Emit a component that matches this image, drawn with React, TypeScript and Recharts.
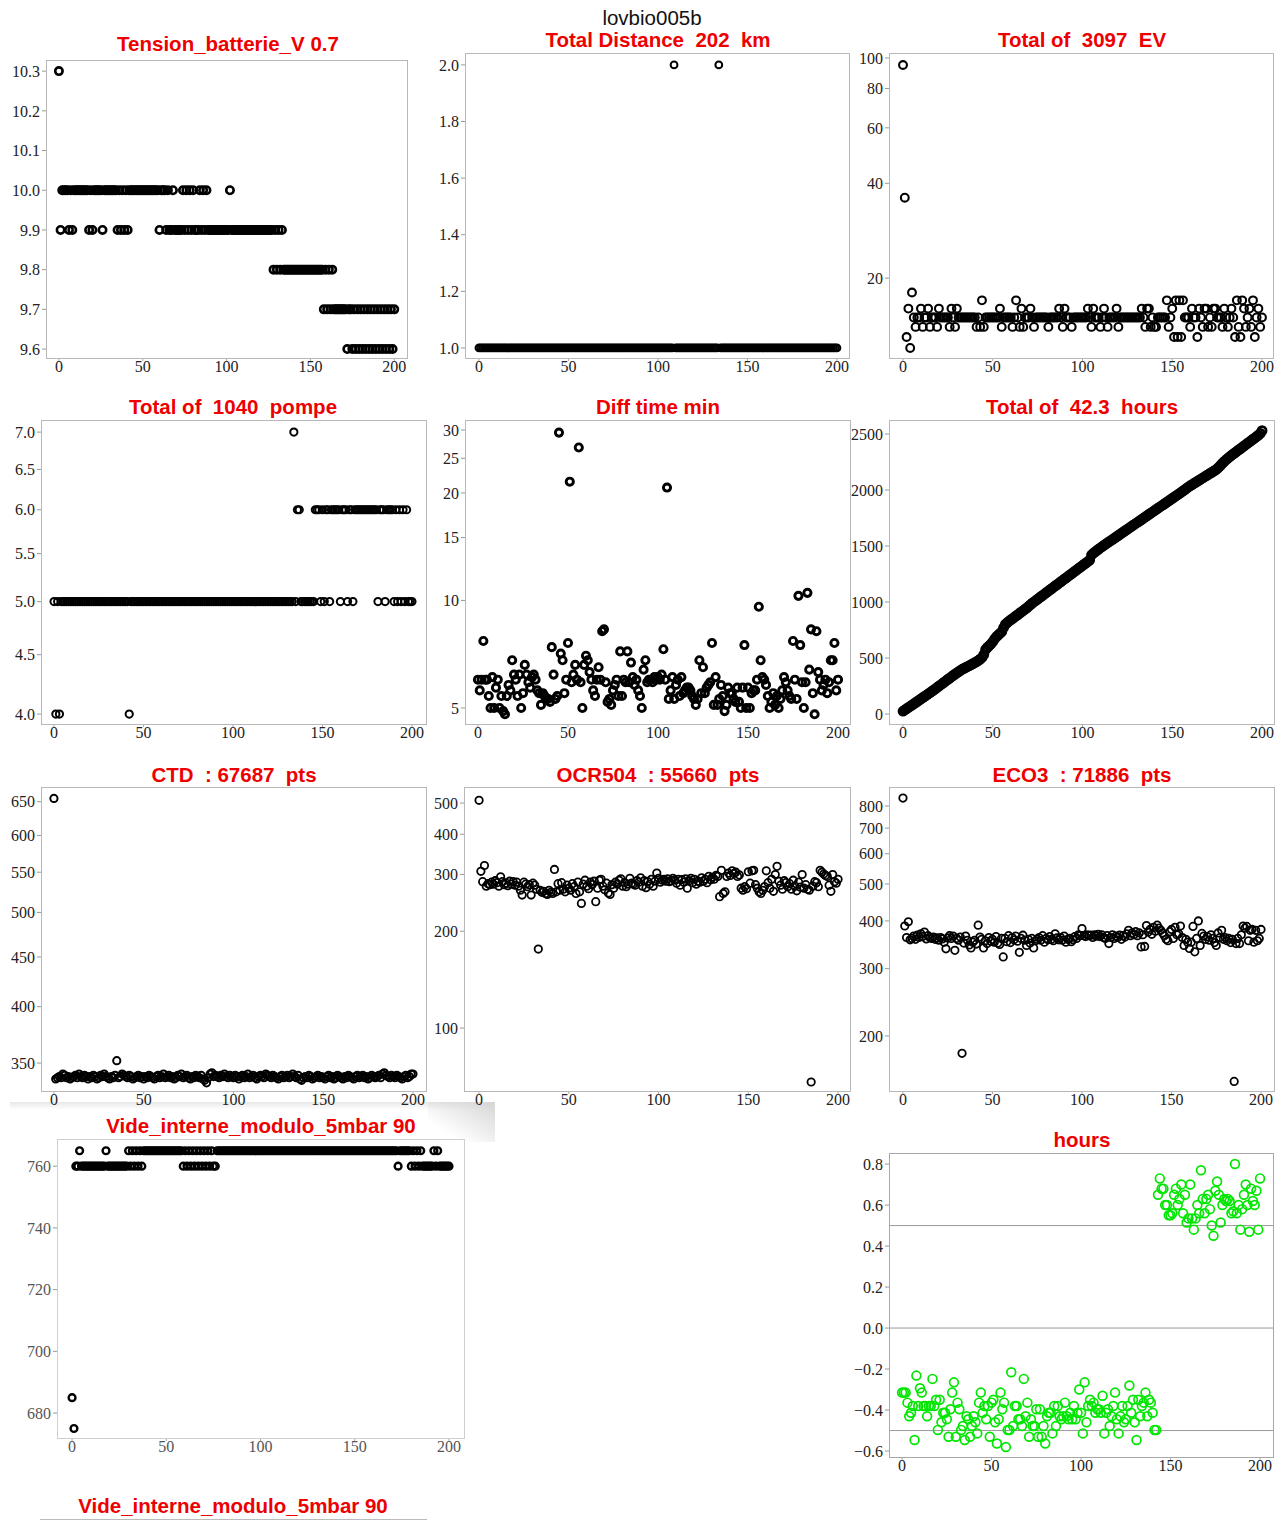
import React from 'react';
import { ScatterChart, Scatter, XAxis, YAxis, ReferenceLine } from 'recharts';

const X_TICKS = [0, 50, 100, 150, 200];

// Tension_batterie_V
const tension = [
  10.3, 9.9, 10.0, 10.0, 10.0, 10.0, 9.9, 10.0, 9.9, 10.0,
  10.0, 10.0, 10.0, 10.0, 10.0, 10.0, 10.0, 10.0, 9.9, 10.0,
  9.9, 10.0, 10.0, 10.0, 10.0, 10.0, 9.9, 10.0, 10.0, 10.0,
  10.0, 10.0, 10.0, 10.0, 10.0, 9.9, 10.0, 9.9, 10.0, 9.9,
  10.0, 9.9, 10.0, 10.0, 10.0, 10.0, 10.0, 10.0, 10.0, 10.0,
  10.0, 10.0, 10.0, 10.0, 10.0, 10.0, 10.0, 10.0, 10.0, 10.0,
  9.9, 10.0, 10.0, 10.0, 9.9, 10.0, 9.9, 9.9, 10.0, 9.9,
  9.9, 9.9, 9.9, 9.9, 10.0, 9.9, 10.0, 9.9, 10.0, 9.9,
  10.0, 9.9, 9.9, 9.9, 10.0, 9.9, 10.0, 9.9, 10.0, 9.9,
  9.9, 9.9, 9.9, 9.9, 9.9, 9.9, 9.9, 9.9, 9.9, 9.9,
  9.9, 9.9, 10.0, 9.9, 9.9, 9.9, 9.9, 9.9, 9.9, 9.9,
  9.9, 9.9, 9.9, 9.9, 9.9, 9.9, 9.9, 9.9, 9.9, 9.9,
  9.9, 9.9, 9.9, 9.9, 9.9, 9.9, 9.9, 9.9, 9.8, 9.9,
  9.8, 9.9, 9.8, 9.9, 9.8, 9.8, 9.8, 9.8, 9.8, 9.8,
  9.8, 9.8, 9.8, 9.8, 9.8, 9.8, 9.8, 9.8, 9.8, 9.8,
  9.8, 9.8, 9.8, 9.8, 9.8, 9.8, 9.8, 9.8, 9.7, 9.8,
  9.7, 9.8, 9.7, 9.8, 9.7, 9.7, 9.7, 9.7, 9.7, 9.7,
  9.7, 9.7, 9.6, 9.7, 9.7, 9.6, 9.7, 9.6, 9.7, 9.6,
  9.7, 9.6, 9.7, 9.6, 9.7, 9.6, 9.7, 9.6, 9.7, 9.6,
  9.7, 9.6, 9.7, 9.6, 9.7, 9.6, 9.7, 9.6, 9.7, 9.6,
  9.7,
];

// Total Distance (km per cycle)
const distance = [
  1, 1, 1, 1, 1, 1, 1, 1, 1, 1, 1, 1, 1, 1, 1, 1, 1, 1, 1, 1,
  1, 1, 1, 1, 1, 1, 1, 1, 1, 1, 1, 1, 1, 1, 1, 1, 1, 1, 1, 1,
  1, 1, 1, 1, 1, 1, 1, 1, 1, 1, 1, 1, 1, 1, 1, 1, 1, 1, 1, 1,
  1, 1, 1, 1, 1, 1, 1, 1, 1, 1, 1, 1, 1, 1, 1, 1, 1, 1, 1, 1,
  1, 1, 1, 1, 1, 1, 1, 1, 1, 1, 1, 1, 1, 1, 1, 1, 1, 1, 1, 1,
  1, 1, 1, 1, 1, 1, 1, 1, 1, 2, 1, 1, 1, 1, 1, 1, 1, 1, 1, 1,
  1, 1, 1, 1, 1, 1, 1, 1, 1, 1, 1, 1, 1, 1, 2, 1, 1, 1, 1, 1,
  1, 1, 1, 1, 1, 1, 1, 1, 1, 1, 1, 1, 1, 1, 1, 1, 1, 1, 1, 1,
  1, 1, 1, 1, 1, 1, 1, 1, 1, 1, 1, 1, 1, 1, 1, 1, 1, 1, 1, 1,
  1, 1, 1, 1, 1, 1, 1, 1, 1, 1, 1, 1, 1, 1, 1, 1, 1, 1, 1, 1,
  1,
];

// EV per cycle
const ev = [
  95, 36, 13, 16, 12, 18, 15, 14, 15, 15,
  16, 14, 15, 15, 16, 14, 15, 15, 15, 14,
  16, 15, 15, 15, 15, 15, 14, 16, 15, 14,
  16, 15, 15, 15, 15, 15, 15, 15, 15, 15,
  15, 14, 15, 14, 17, 14, 15, 15, 15, 15,
  15, 15, 15, 15, 16, 14, 15, 15, 15, 15,
  15, 14, 15, 17, 15, 14, 16, 14, 15, 15,
  15, 16, 15, 14, 15, 15, 15, 15, 15, 15,
  15, 14, 15, 15, 15, 15, 15, 16, 15, 14,
  16, 15, 15, 15, 14, 15, 15, 15, 15, 15,
  15, 15, 15, 16, 15, 14, 16, 15, 15, 15,
  14, 15, 16, 15, 14, 15, 15, 15, 15, 16,
  14, 15, 15, 15, 15, 15, 15, 15, 15, 15,
  15, 15, 15, 16, 15, 14, 16, 16, 14, 15,
  14, 14, 15, 15, 15, 15, 15, 17, 14, 15,
  16, 13, 17, 13, 17, 13, 17, 15, 15, 15,
  14, 16, 15, 15, 13, 16, 15, 14, 16, 16,
  14, 15, 14, 16, 16, 15, 15, 15, 14, 16,
  15, 14, 15, 16, 15, 13, 17, 14, 13, 17,
  16, 14, 15, 16, 14, 17, 13, 15, 16, 14,
  15,
];

// pompe per cycle
const pompe = [
  5, 4, 5, 4, 5, 5, 5, 5, 5, 5,
  5, 5, 5, 5, 5, 5, 5, 5, 5, 5,
  5, 5, 5, 5, 5, 5, 5, 5, 5, 5,
  5, 5, 5, 5, 5, 5, 5, 5, 5, 5,
  5, 5, 4, 5, 5, 5, 5, 5, 5, 5,
  5, 5, 5, 5, 5, 5, 5, 5, 5, 5,
  5, 5, 5, 5, 5, 5, 5, 5, 5, 5,
  5, 5, 5, 5, 5, 5, 5, 5, 5, 5,
  5, 5, 5, 5, 5, 5, 5, 5, 5, 5,
  5, 5, 5, 5, 5, 5, 5, 5, 5, 5,
  5, 5, 5, 5, 5, 5, 5, 5, 5, 5,
  5, 5, 5, 5, 5, 5, 5, 5, 5, 5,
  5, 5, 5, 5, 5, 5, 5, 5, 5, 5,
  5, 5, 5, 5, 7, 5, 6, 6, 5, 5,
  5, 5, 5, 5, 5, 5, 6, 6, 6, 5,
  6, 5, 6, 6, 5, 6, 6, 6, 6, 6,
  5, 6, 6, 6, 5, 6, 6, 5, 6, 6,
  6, 6, 6, 6, 6, 6, 6, 6, 6, 6,
  6, 5, 6, 6, 6, 5, 6, 6, 6, 6,
  5, 6, 5, 6, 5, 6, 5, 6, 5, 5,
  5,
];

// Diff time min
const diffTime = [
  6.0, 5.6, 6.0, 7.7, 6.0, 6.0, 5.4, 5.0, 6.1, 5.0,
  5.7, 6.0, 5.0, 5.4, 4.9, 4.8, 5.4, 5.8, 5.6, 6.8,
  6.2, 6.0, 5.4, 6.2, 5.0, 5.5, 6.6, 6.2, 5.9, 5.7,
  6.1, 6.2, 6.0, 5.6, 5.5, 5.1, 5.5, 5.4, 5.3, 5.3,
  5.2, 7.4, 6.2, 5.3, 5.4, 29.5, 7.1, 6.8, 5.5, 6.0,
  7.6, 21.5, 5.9, 6.2, 6.6, 6.0, 26.8, 5.9, 5.0, 6.6,
  7.0, 6.8, 6.3, 6.0, 5.6, 5.4, 6.0, 6.5, 6.0, 8.2,
  8.3, 5.9, 5.2, 5.3, 5.1, 5.6, 5.8, 6.0, 5.4, 7.2,
  5.4, 6.0, 5.9, 7.2, 5.9, 6.7, 6.1, 5.8, 6.0, 5.6,
  5.4, 5.0, 6.4, 6.8, 5.9, 6.0, 6.0, 5.9, 6.1, 6.0,
  6.1, 6.0, 6.2, 7.3, 6.0, 20.7, 5.3, 5.6, 6.1, 5.3,
  5.8, 6.0, 5.4, 6.1, 5.5, 5.6, 5.7, 5.7, 5.6, 5.4,
  5.3, 5.1, 5.3, 6.8, 5.5, 6.5, 5.5, 5.7, 5.8, 5.9,
  7.6, 5.1, 6.1, 5.1, 5.3, 5.8, 5.4, 4.9, 5.1, 5.7,
  5.5, 5.5, 5.3, 5.2, 5.7, 5.2, 5.0, 5.7, 7.5, 5.0,
  5.7, 5.0, 5.5, 5.6, 5.6, 6.0, 9.6, 6.8, 6.1, 6.0,
  5.8, 5.4, 5.0, 5.2, 5.5, 5.1, 5.4, 5.0, 5.3, 5.6,
  6.1, 5.9, 5.6, 5.4, 5.3, 7.7, 6.0, 5.3, 10.3, 7.5,
  5.9, 5.0, 5.9, 10.5, 6.4, 8.3, 5.5, 4.8, 8.2, 6.3,
  6.0, 5.6, 5.8, 6.0, 5.5, 5.9, 6.8, 6.8, 7.6, 5.6,
  6.0,
];

// cumulative minutes (Total of 42.3 hours)
const cumTime = [
  25, 36, 47, 58, 69, 80, 91, 102, 113, 124,
  135, 146, 157, 168, 179, 190, 201, 213, 225, 237,
  249, 261, 273, 285, 297, 309, 321, 333, 345, 356,
  367, 378, 389, 400, 408, 416, 424, 432, 441, 450,
  459, 468, 478, 490, 505, 530, 575, 595, 610, 625,
  645, 670, 690, 705, 720, 735, 770, 800, 815, 828,
  840, 852, 864, 876, 888, 900, 912, 924, 936, 948,
  962, 976, 990, 1002, 1014, 1026, 1038, 1050, 1062, 1074,
  1086, 1098, 1110, 1122, 1134, 1146, 1158, 1170, 1182, 1194,
  1206, 1218, 1230, 1242, 1254, 1266, 1278, 1290, 1302, 1314,
  1326, 1338, 1350, 1362, 1374, 1420, 1435, 1448, 1460, 1472,
  1484, 1496, 1507, 1518, 1529, 1540, 1551, 1562, 1573, 1584,
  1595, 1606, 1617, 1628, 1639, 1650, 1661, 1672, 1683, 1694,
  1705, 1716, 1727, 1738, 1749, 1760, 1771, 1782, 1793, 1804,
  1815, 1826, 1837, 1848, 1859, 1870, 1881, 1892, 1903, 1914,
  1925, 1936, 1947, 1958, 1969, 1980, 1992, 2004, 2016, 2027,
  2038, 2048, 2058, 2068, 2078, 2088, 2098, 2108, 2118, 2128,
  2138, 2148, 2158, 2168, 2178, 2190, 2205, 2222, 2240, 2256,
  2270, 2284, 2297, 2310, 2322, 2334, 2346, 2358, 2370, 2382,
  2394, 2406, 2418, 2430, 2442, 2454, 2466, 2478, 2490, 2505,
  2530,
];

// CTD pts per cycle
const ctd = [
  655, 337, 338, 339, 338, 341, 340, 338, 339, 337,
  338, 339, 340, 338, 341, 339, 338, 340, 339, 337,
  339, 338, 340, 339, 337, 338, 340, 339, 341, 339,
  338, 337, 339, 338, 340, 352, 338, 339, 341, 340,
  339, 338, 340, 339, 337, 338, 339, 340, 338, 339,
  337, 339, 338, 340, 339, 338, 337, 339, 340, 338,
  339, 341, 338, 339, 340, 338, 339, 337, 338, 340,
  339, 341, 338, 339, 340, 338, 337, 339, 338, 340,
  339, 338, 340, 337, 336, 334, 338, 341, 342, 339,
  340, 339, 338, 340, 339, 341, 339, 338, 340, 339,
  338, 340, 339, 337, 339, 340, 338, 339, 341, 338,
  339, 340, 338, 337, 339, 340, 339, 338, 341, 340,
  339, 338, 340, 339, 338, 337, 339, 340, 338, 339,
  340, 338, 339, 341, 339, 338, 340, 337, 336, 338,
  339, 338, 340, 339, 337, 338, 339, 340, 338, 339,
  338, 337, 339, 340, 338, 339, 337, 338, 340, 339,
  338, 337, 339, 338, 340, 339, 338, 337, 339, 340,
  338, 339, 340, 338, 339, 337, 338, 340, 339, 338,
  339, 340, 338, 341, 342, 340, 339, 338, 340, 339,
  338, 340, 339, 338, 337, 339, 340, 338, 339, 341,
  341,
];

// OCR504 pts per cycle
const ocr = [
  510, 307, 285, 320, 276, 281, 279, 284, 280, 287,
  283, 276, 295, 285, 279, 282, 277, 286, 280, 285,
  278, 284, 276, 268, 259, 284, 280, 275, 279, 259,
  282, 278, 270, 176, 268, 264, 266, 262, 260, 268,
  264, 262, 311, 265, 281, 268, 283, 270, 265, 278,
  272, 268, 281, 275, 262, 284, 265, 244, 280, 288,
  276, 271, 284, 279, 286, 247, 272, 288, 290, 276,
  269, 282, 263, 260, 279, 272, 284, 280, 288, 291,
  276, 283, 275, 280, 292, 282, 280, 278, 287, 284,
  293, 276, 287, 273, 285, 280, 290, 276, 286, 303,
  292, 284, 288, 290, 286, 291, 285, 287, 292, 288,
  282, 290, 278, 289, 284, 291, 272, 287, 292, 283,
  290, 280, 286, 284, 293, 286, 290, 283, 296, 289,
  294, 290, 298, 296, 256, 309, 262, 265, 296, 303,
  298, 308, 302, 305, 296, 299, 272, 268, 275, 271,
  306, 282, 308, 309, 279, 272, 265, 262, 268, 275,
  308, 283, 272, 290, 266, 300, 318, 286, 278, 270,
  287, 283, 275, 281, 270, 288, 276, 267, 284, 274,
  300, 272, 279, 270, 268, 68, 276, 285, 283, 275,
  309, 305, 301, 298, 296, 278, 266, 300, 285, 282,
  290,
];

// ECO3 pts per cycle
const eco = [
  839, 388, 362, 398, 357, 360, 365, 358, 367, 362,
  370, 364, 374, 359, 366, 362, 360, 363, 358, 361,
  356, 362, 359, 352, 338, 361, 366, 360, 365, 335,
  360, 356, 363, 180, 350, 365, 356, 346, 340, 352,
  356, 348, 390, 363, 358, 340, 355, 349, 362, 354,
  358, 352, 364, 350, 347, 360, 322, 360, 353, 366,
  351, 362, 357, 365, 354, 331, 360, 367, 356, 345,
  358, 350, 360, 340, 355, 358, 362, 356, 366, 352,
  360, 357, 364, 358, 355, 370, 361, 357, 362, 356,
  365, 352, 358, 360, 353, 357, 364, 360, 368, 366,
  382, 366, 364, 368, 366, 367, 362, 368, 365, 369,
  364, 368, 362, 360, 366, 349, 362, 368, 360, 365,
  362, 367, 358, 366, 363, 370, 378, 366, 372, 368,
  375, 366, 372, 342, 368, 343, 389, 374, 380, 369,
  385, 376, 390, 383, 378, 372, 366, 358, 355, 375,
  380, 360, 385, 368, 370, 388, 362, 345, 358, 352,
  339, 352, 387, 332, 360, 400, 345, 371, 365, 358,
  364, 356, 368, 360, 351, 345, 372, 362, 378, 358,
  362, 355, 360, 351, 358, 152, 349, 360, 349, 368,
  388, 383, 387, 355, 378, 380, 352, 378, 355, 360,
  380,
];

// Vide_interne_modulo_5mbar
const vide = [
  685, 675, 760, 760, 765, 760, 760, 760, 760, 760,
  760, 760, 760, 760, 760, 760, 760, 760, 765, 760,
  760, 760, 760, 760, 760, 760, 760, 760, 760, 760,
  765, 760, 765, 760, 765, 760, 765, 760, 765, 765,
  765, 765, 765, 765, 765, 765, 765, 765, 765, 765,
  765, 765, 765, 765, 765, 765, 765, 765, 765, 760,
  765, 760, 765, 760, 765, 760, 765, 760, 765, 760,
  765, 760, 765, 760, 765, 760, 760, 765, 765, 765,
  765, 765, 765, 765, 765, 765, 765, 765, 765, 765,
  765, 765, 765, 765, 765, 765, 765, 765, 765, 765,
  765, 765, 765, 765, 765, 765, 765, 765, 765, 765,
  765, 765, 765, 765, 765, 765, 765, 765, 765, 765,
  765, 765, 765, 765, 765, 765, 765, 765, 765, 765,
  765, 765, 765, 765, 765, 765, 765, 765, 765, 765,
  765, 765, 765, 765, 765, 765, 765, 765, 765, 765,
  765, 765, 765, 765, 765, 765, 765, 765, 765, 765,
  765, 765, 765, 765, 765, 765, 765, 765, 765, 765,
  765, 765, 765, 760, 765, 765, 765, 765, 765, 765,
  760, 765, 760, 765, 760, 765, 760, 760, 760, 760,
  760, 760, 765, 760, 765, 760, 760, 760, 760, 760,
  760,
];

// hours (offset)
const hours = [
  -0.315, -0.315, -0.315, -0.364, -0.43, -0.413, -0.38, -0.546, -0.232, -0.38,
  -0.294, -0.315, -0.38, -0.38, -0.43, -0.38, -0.38, -0.248, -0.38, -0.35,
  -0.497, -0.35, -0.46, -0.413, -0.413, -0.445, -0.53, -0.396, -0.315, -0.265,
  -0.53, -0.364, -0.396, -0.497, -0.478, -0.546, -0.43, -0.445, -0.53, -0.478,
  -0.43, -0.46, -0.514, -0.364, -0.315, -0.413, -0.38, -0.445, -0.38, -0.53,
  -0.364, -0.35, -0.46, -0.563, -0.445, -0.315, -0.396, -0.364, -0.58, -0.497,
  -0.497, -0.216, -0.478, -0.38, -0.38, -0.445, -0.445, -0.478, -0.248, -0.43,
  -0.364, -0.53, -0.445, -0.478, -0.478, -0.396, -0.53, -0.396, -0.53, -0.478,
  -0.563, -0.43, -0.413, -0.413, -0.514, -0.38, -0.478, -0.38, -0.43, -0.445,
  -0.43, -0.364, -0.43, -0.445, -0.413, -0.445, -0.38, -0.445, -0.413, -0.3,
  -0.413, -0.514, -0.265, -0.46, -0.38, -0.35, -0.38, -0.364, -0.413, -0.396,
  -0.396, -0.413, -0.33, -0.514, -0.413, -0.396, -0.478, -0.43, -0.38, -0.315,
  -0.445, -0.514, -0.43, -0.38, -0.46, -0.445, -0.38, -0.28, -0.413, -0.35,
  -0.46, -0.546, -0.35, -0.43, -0.38, -0.364, -0.315, -0.43, -0.35, -0.364,
  -0.413, -0.497, -0.497, 0.65, 0.73, 0.68, 0.68, 0.6, 0.6, 0.55,
  0.55, 0.56, 0.65, 0.68, 0.6, 0.63, 0.7, 0.56, 0.65, 0.515,
  0.535, 0.7, 0.535, 0.48, 0.535, 0.6, 0.56, 0.77, 0.63, 0.56,
  0.63, 0.65, 0.58, 0.5, 0.45, 0.67, 0.715, 0.65, 0.515, 0.6,
  0.63, 0.62, 0.63, 0.62, 0.56, 0.57, 0.8, 0.56, 0.6, 0.48,
  0.58, 0.65, 0.7, 0.6, 0.47, 0.68, 0.62, 0.6, 0.67, 0.48,
  0.73,
];

const SERIF = '"Liberation Serif", "Times New Roman", serif';
const SANS = '"Liberation Sans", Arial, Helvetica, sans-serif';

type Box = [number, number, number, number];

interface PanelProps {
  box: Box;
  xDomain: [number, number];
  yDomain: [number, number];
  yTicks: number[];
  values: number[];
  log?: boolean;
  fmt?: (v: number) => string;
  r?: number;
  sw?: number;
  color?: string;
  tickColor?: string;
  frame?: string;
  refLines?: number[];
}

const Panel: React.FC<PanelProps> = ({
  box, xDomain, yDomain, yTicks, values, log = false, fmt,
  r = 3.6, sw = 2, color = '#000', tickColor = '#222', frame = '#b8b8b8', refLines = [],
}) => {
  const [l, t, rr, b] = box;
  const w = rr - l;
  const h = b - t;
  const data = values.map((y, x) => ({ x, y }));
  const tickStyle = { fontFamily: SERIF, fontSize: 16, fill: tickColor };

  return (
    <>
      <div style={{ position: 'absolute', left: l - 50, top: t - 10 }}>
        <ScatterChart width={w + 60} height={h + 35} margin={{ top: 10, right: 10, left: 0, bottom: 0 }}>
          <XAxis
            type="number"
            dataKey="x"
            domain={xDomain}
            ticks={X_TICKS}
            interval={0}
            allowDataOverflow
            axisLine={false}
            tickLine={{ stroke: '#aaa' }}
            tickSize={2}
            tickMargin={0}
            height={25}
            tick={tickStyle}
          />
          <YAxis
            type="number"
            dataKey="y"
            scale={log ? 'log' : 'linear'}
            domain={yDomain}
            ticks={yTicks}
            interval={0}
            allowDataOverflow
            width={50}
            axisLine={false}
            tickLine={{ stroke: '#999' }}
            tickSize={4}
            tickMargin={2}
            tickFormatter={fmt}
            tick={tickStyle}
          />
          {refLines.map(v => (
            <ReferenceLine key={v} y={v} stroke="#9a9a9a" strokeWidth={1} />
          ))}
          <Scatter
            data={data}
            isAnimationActive={false}
            shape={(p: any) => (
              <circle cx={p.cx} cy={p.cy} r={r} fill="none" stroke={color} strokeWidth={sw} />
            )}
          />
        </ScatterChart>
      </div>
      <div
        style={{
          position: 'absolute', left: l, top: t, width: w, height: h,
          border: `1px solid ${frame}`, boxSizing: 'border-box', pointerEvents: 'none',
        }}
      />
    </>
  );
};

const Title: React.FC<{ x: number; y: number; text: string; color?: string; bold?: boolean }> = ({
  x, y, text, color = '#ee0000', bold = true,
}) => (
  <div
    style={{
      position: 'absolute', left: x, top: y - 10, transform: 'translateX(-50%)',
      fontFamily: SANS, fontWeight: bold ? 700 : 400, fontSize: 20.5, lineHeight: '20.5px',
      color, whiteSpace: 'pre',
    }}
  >
    {text}
  </div>
);

const fmt1 = (v: number) => v.toFixed(1);
const fmtMinus = (v: number) => (v < 0 ? '\u2212' + Math.abs(v).toFixed(1) : v.toFixed(1));

export default function App() {
  return (
    <div style={{ position: 'absolute', left: 0, top: 0, width: 1287, height: 1521, background: '#fff', overflow: 'hidden' }}>
      {/* shadow of pasted image */}
      <div style={{ position: 'absolute', left: 10, top: 1102, width: 485, height: 8, background: 'linear-gradient(to bottom, #e8e8e8, #ffffff)' }} />
      <div style={{ position: 'absolute', left: 428, top: 1102, width: 67, height: 40, background: 'linear-gradient(to bottom left, #d6d6d6, rgba(255,255,255,0) 75%)' }} />

      <Panel box={[46, 60, 408, 359]} xDomain={[-7.7, 208.2]} yDomain={[9.575, 10.328]}
        yTicks={[9.6, 9.7, 9.8, 9.9, 10.0, 10.1, 10.2, 10.3]} values={tension} fmt={fmt1} r={3.7} sw={2.6} />
      <Panel box={[465, 53, 850, 359]} xDomain={[-7.8, 207.3]} yDomain={[0.961, 2.042]}
        yTicks={[1.0, 1.2, 1.4, 1.6, 1.8, 2.0]} values={distance} fmt={fmt1} r={3.4} sw={2} />
      <Panel box={[889, 53, 1274, 359]} xDomain={[-7.8, 206.7]} yDomain={[11.07, 103.7]} log
        yTicks={[20, 40, 60, 80, 100]} values={ev} r={3.9} sw={2.1} />

      <Panel box={[41, 420, 427, 725]} xDomain={[-7.3, 208.4]} yDomain={[3.914, 7.17]} log
        yTicks={[4.0, 4.5, 5.0, 5.5, 6.0, 6.5, 7.0]} values={pompe} fmt={fmt1} r={3.6} sw={2} />
      <Panel box={[465, 420, 851, 725]} xDomain={[-7.2, 207.2]} yDomain={[4.48, 32.0]} log
        yTicks={[5, 10, 15, 20, 25, 30]} values={diffTime} r={3.6} sw={2.9} />
      <Panel box={[889, 420, 1275, 725]} xDomain={[-7.8, 207.2]} yDomain={[-98, 2625]}
        yTicks={[0, 500, 1000, 1500, 2000, 2500]} values={cumTime} r={4} sw={2.8} />

      <Panel box={[41, 787, 427, 1092]} xDomain={[-7.2, 207.8]} yDomain={[326.8, 673]} log
        yTicks={[350, 400, 450, 500, 550, 600, 650]} values={ctd} r={3.6} sw={2} />
      <Panel box={[464, 787, 851, 1092]} xDomain={[-8.4, 207.2]} yDomain={[63.3, 561]} log
        yTicks={[100, 200, 300, 400, 500]} values={ocr} r={3.7} sw={1.8} />
      <Panel box={[889, 787, 1275, 1092]} xDomain={[-7.8, 207.8]} yDomain={[142.6, 897]} log
        yTicks={[200, 300, 400, 500, 600, 700, 800]} values={eco} r={3.7} sw={1.8} />

      <Panel box={[57, 1139, 465, 1439]} xDomain={[-8, 208.5]} yDomain={[671.6, 768.8]}
        yTicks={[680, 700, 720, 740, 760]} values={vide} r={3.4} sw={2.4} tickColor="#555" frame="#cfcfcf" />
      <Panel box={[889, 1153, 1274, 1458]} xDomain={[-7.3, 207.8]} yDomain={[-0.634, 0.854]}
        yTicks={[-0.6, -0.4, -0.2, 0.0, 0.2, 0.4, 0.6, 0.8]} values={hours} fmt={fmtMinus}
        r={4.4} sw={1.7} color="#00e600" frame="#a8a8a8" refLines={[0.5, 0, -0.5]} />

      <Title x={652} y={18} text="lovbio005b" color="#111" bold={false} />
      <Title x={228} y={44} text="Tension_batterie_V 0.7" />
      <Title x={658} y={40} text="Total Distance  202  km" />
      <Title x={1082} y={40} text="Total of  3097  EV" />
      <Title x={233} y={407} text="Total of  1040  pompe" />
      <Title x={658} y={407} text="Diff time min" />
      <Title x={1082} y={407} text="Total of  42.3  hours" />
      <Title x={234} y={775} text="CTD  : 67687  pts" />
      <Title x={658} y={775} text="OCR504  : 55660  pts" />
      <Title x={1082} y={775} text="ECO3  : 71886  pts" />
      <Title x={261} y={1126} text="Vide_interne_modulo_5mbar 90" />
      <Title x={1082} y={1140} text="hours" />
      <Title x={233} y={1506} text="Vide_interne_modulo_5mbar 90" />
      <div style={{ position: 'absolute', left: 40, top: 1519, width: 387, height: 2, borderTop: '1px solid #bbb' }} />
    </div>
  );
}
